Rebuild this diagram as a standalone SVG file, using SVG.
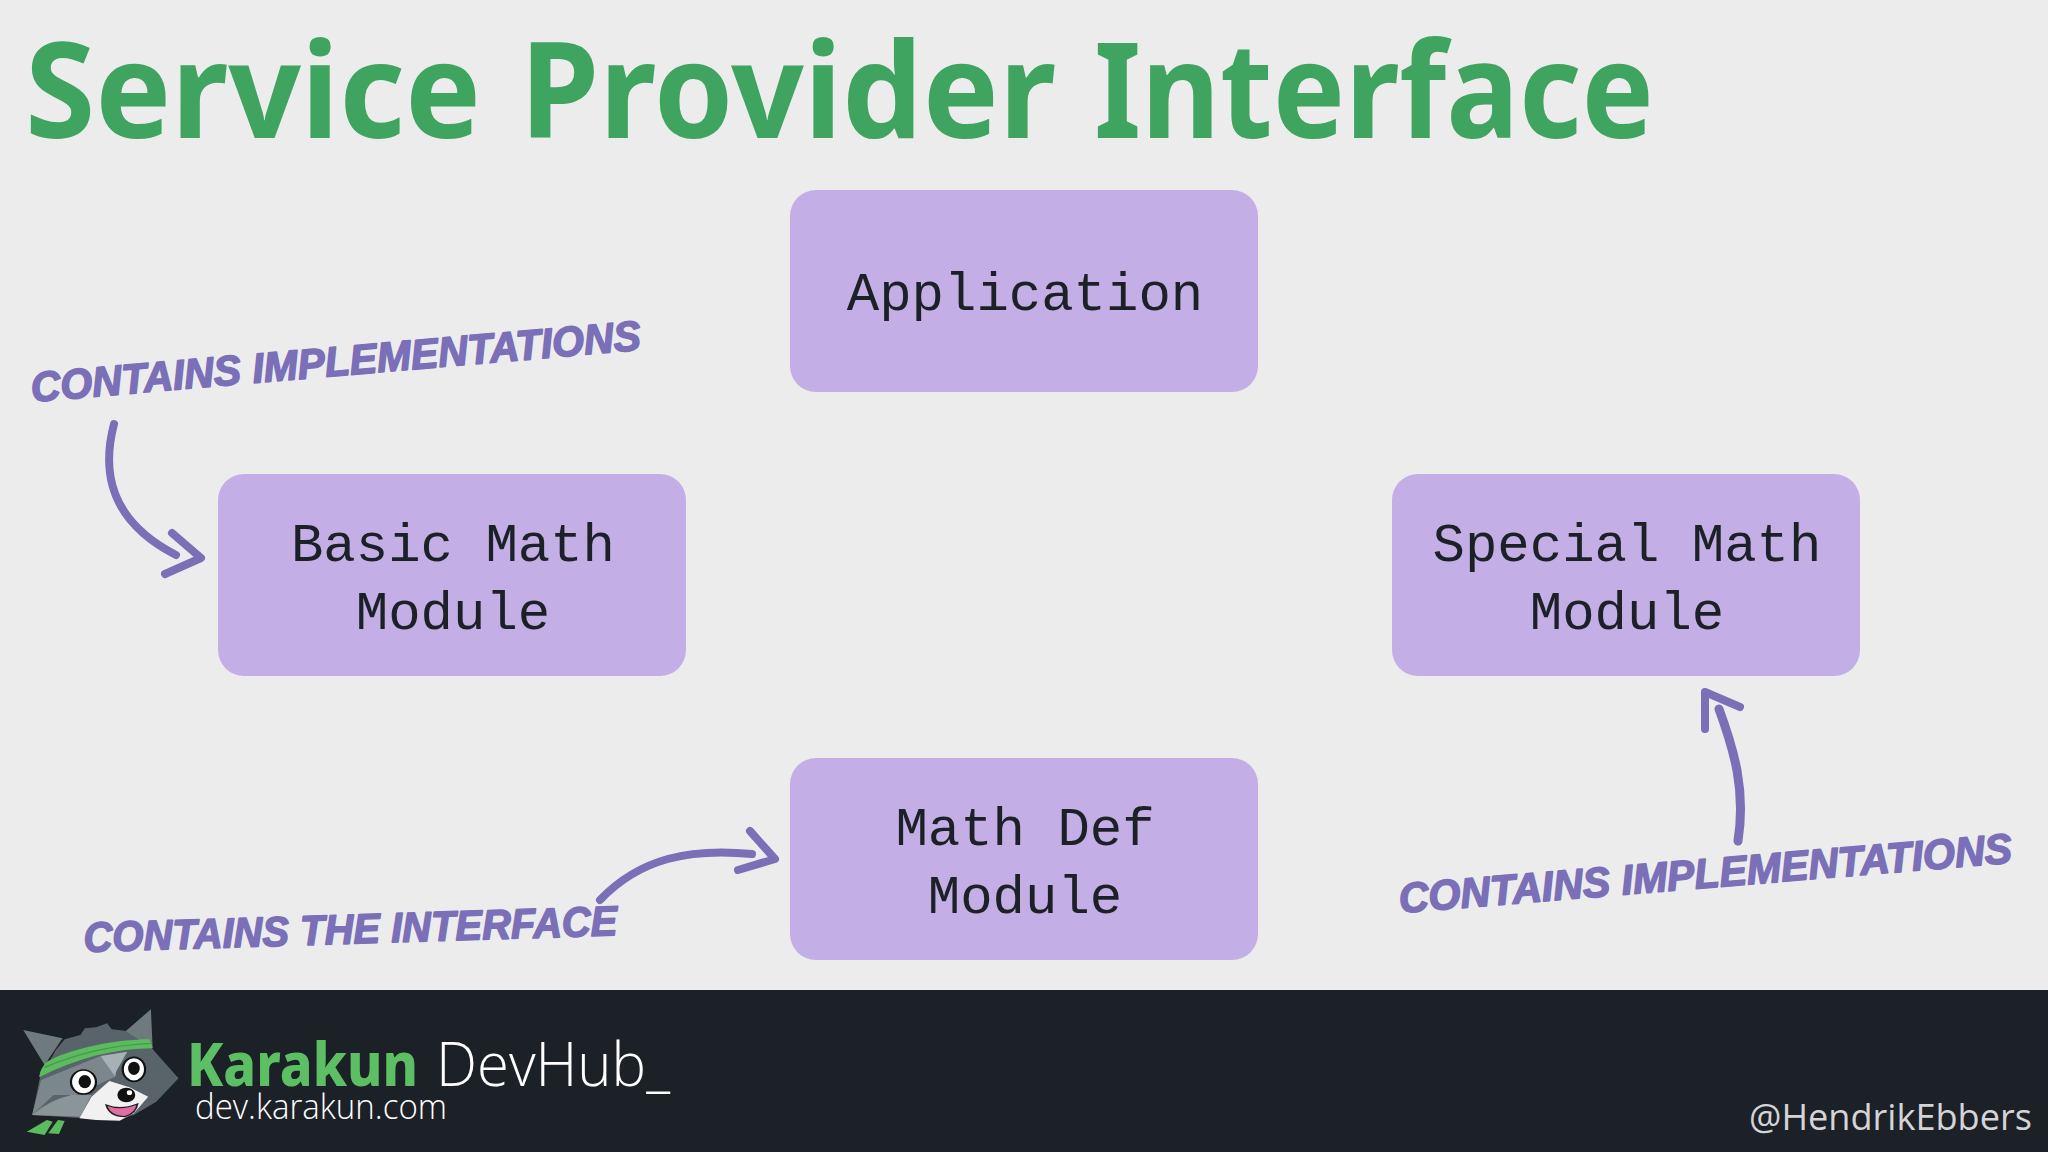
<svg xmlns="http://www.w3.org/2000/svg" width="2048" height="1152" viewBox="0 0 2048 1152">
<style>
.box{fill:#c4aee6}
.mono{font-family:"Liberation Mono","DejaVu Sans Mono",monospace;font-size:54px;fill:#1c2027;text-anchor:middle}
.hand{font-family:"Liberation Sans",Arial,sans-serif;font-weight:700;font-style:italic;font-size:42px;fill:#7b6fb8;stroke:#7b6fb8;stroke-width:1.6px;stroke-linejoin:round}
.arrow{fill:none;stroke:#7b6fb8;stroke-linecap:round;stroke-linejoin:round}
</style>
<rect width="2048" height="1152" fill="#ececed"/>
<text y="138" font-family="'Noto Sans','Open Sans',sans-serif" font-weight="700" font-size="132" fill="#3fa45f"><tspan x="25" textLength="456" lengthAdjust="spacingAndGlyphs">Service</tspan> <tspan x="520" textLength="536" lengthAdjust="spacingAndGlyphs">Provider</tspan> <tspan x="1094" textLength="560" lengthAdjust="spacingAndGlyphs">Interface</tspan></text>
<g id="node-application"><rect class="box" x="790" y="190" width="468" height="202" rx="26"/><text class="mono" x="1025" y="310">Application</text></g>
<g id="node-basic"><rect class="box" x="218" y="474" width="468" height="202" rx="26"/><text class="mono" x="453" y="561">Basic Math</text><text class="mono" x="453" y="629">Module</text></g>
<g id="node-special"><rect class="box" x="1392" y="474" width="468" height="202" rx="26"/><text class="mono" x="1627" y="561">Special Math</text><text class="mono" x="1627" y="629">Module</text></g>
<g id="node-mathdef"><rect class="box" x="790" y="758" width="468" height="202" rx="26"/><text class="mono" x="1025" y="845">Math Def</text><text class="mono" x="1025" y="913">Module</text></g>
<g id="connectors">
<path class="arrow" stroke-width="8" d="M114 424C102 470 108 520 176 555"/>
<path class="arrow" stroke-width="8" d="M172 533L201 558L165 574"/>
<path class="arrow" stroke-width="8" d="M600 900C640 858 690 848 752 854"/>
<path class="arrow" stroke-width="8" d="M750 831L775 859L738 870"/>
<path class="arrow" stroke-width="9" d="M1738 841C1746 790 1734 750 1719 709"/>
<path class="arrow" stroke-width="8" d="M1705 729L1705 692L1740 707"/>
</g>
<g id="label-1"><text class="hand" transform="translate(32 402) rotate(-4.9)" textLength="612" lengthAdjust="spacingAndGlyphs">CONTAINS IMPLEMENTATIONS</text></g>
<g id="label-2"><text class="hand" transform="translate(84 952) rotate(-1.8)" textLength="534" lengthAdjust="spacingAndGlyphs">CONTAINS THE INTERFACE</text></g>
<g id="label-3"><text class="hand" transform="translate(1400 913) rotate(-4.7)" textLength="615" lengthAdjust="spacingAndGlyphs">CONTAINS IMPLEMENTATIONS</text></g>
<g id="footer">
<rect x="0" y="990" width="2048" height="162" fill="#1c2027"/>
<g id="logo" transform="translate(0 980) scale(.4464 .3333)">
<path d="M52 150L140 175L100 255Z" fill="#6f7a7f"/>
<path d="M338 88L342 205L280 155Z" fill="#6f7a7f"/>
<path d="M100 270L125 210L145 178L180 165L190 145L215 142L240 130L250 148L280 152L340 205L400 295L350 365L300 405L250 420L72 405L90 290Z" fill="#59636a"/>
<path d="M72 405L92 300L225 228L258 290L170 345L120 345Z" fill="#7b878c"/>
<path d="M225 228L285 215L260 275L258 290Z" fill="#a7b0b3"/>
<path d="M72 405Q110 360 160 345L205 345L180 410Z" fill="#8a959a"/>
<path d="M178 415L205 350L245 303L290 322L332 350L300 400L268 422L215 420Z" fill="#f1f1f1"/>
<path d="M88 290C90 270 95 260 105 245C160 205 260 178 335 178L342 205C260 205 170 235 88 292Z" fill="#5dbb5f"/>
<path d="M100 262C170 222 250 195 338 190" fill="none" stroke="#469a4c" stroke-width="4"/>
<ellipse cx="187" cy="306" rx="28" ry="36" fill="#fff" stroke="#111" stroke-width="5"/><ellipse cx="190" cy="305" rx="14" ry="20" fill="#111"/>
<ellipse cx="300" cy="268" rx="25" ry="36" fill="#fff" stroke="#111" stroke-width="5"/><ellipse cx="300" cy="265" rx="13" ry="20" fill="#111"/>
<ellipse cx="283" cy="345" rx="20" ry="22" fill="#111"/><ellipse cx="290" cy="338" rx="6" ry="7" fill="#fff"/>
<path d="M238 375Q270 392 308 372Q305 400 280 410Q245 410 238 375Z" fill="#e06ea0" stroke="#222" stroke-width="4"/>
<path d="M60 455L105 420L118 425L100 465Z" fill="#5dbb5f"/><path d="M108 460L130 420L145 423L132 462Z" fill="#5dbb5f"/>
</g>
<text x="187" y="1086" font-family="'Noto Sans',sans-serif" font-weight="800" font-size="60" fill="#5cbf63" textLength="231" lengthAdjust="spacingAndGlyphs">Karakun</text>
<text x="436" y="1086" font-family="'Open Sans','Noto Sans',sans-serif" font-weight="300" font-size="60" fill="#fff" textLength="234" lengthAdjust="spacingAndGlyphs">DevHub_</text>
<text x="195" y="1119" font-family="'Open Sans','Noto Sans',sans-serif" font-weight="300" font-size="34" fill="#fff" textLength="252" lengthAdjust="spacingAndGlyphs">dev.karakun.com</text>
<text x="1749" y="1130" font-family="'Open Sans','Noto Sans',sans-serif" font-size="37" fill="#d4d4d6" textLength="283" lengthAdjust="spacingAndGlyphs">@HendrikEbbers</text>
</g>
</svg>
